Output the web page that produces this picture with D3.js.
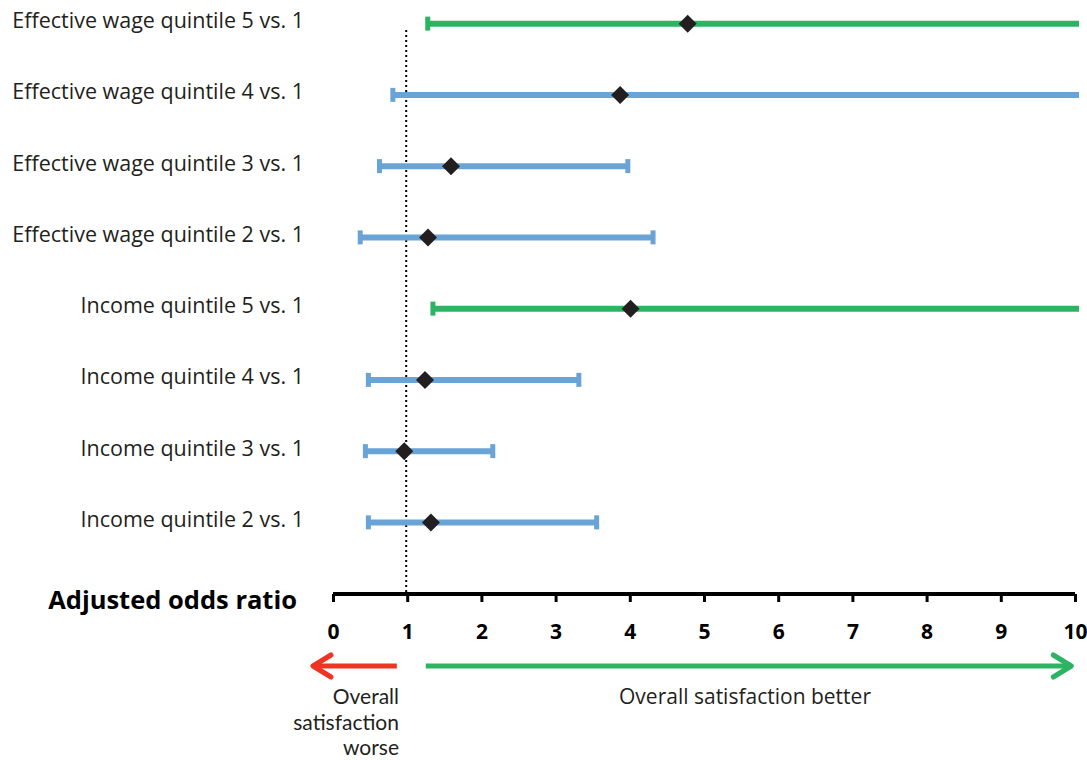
<!DOCTYPE html>
<html>
<head>
<meta charset="utf-8">
<script src="https://cdn.jsdelivr.net/npm/d3@7"></script>
<style>
  body { margin: 0; background: #fff; }
  svg { display: block; font-family: "Open Sans", "Noto Sans", sans-serif; }
</style>
</head>
<body>
<svg id="chart" width="1087" height="760"></svg>
<script>
// rows, top to bottom
var labels = [
    'Effective wage quintile 5 vs. 1',
    'Effective wage quintile 4 vs. 1',
    'Effective wage quintile 3 vs. 1',
    'Effective wage quintile 2 vs. 1',
    'Income quintile 5 vs. 1',
    'Income quintile 4 vs. 1',
    'Income quintile 3 vs. 1',
    'Income quintile 2 vs. 1'
];
var estimates = [4.78, 3.87, 1.59, 1.28, 4.01, 1.24, 0.96, 1.32];
var lowers = [1.27, 0.80, 0.62, 0.36, 1.34, 0.47, 0.43, 0.47];
// null = upper bound runs off the chart
var uppers = [null, null, 3.98, 4.32, null, 3.32, 2.16, 3.56];
var significant = [true, false, false, false, true, false, false, false];
var xTicks = [0, 1, 2, 3, 4, 5, 6, 7, 8, 9, 10];

var green = '#2db463', blue = '#6aa3d6', red = '#ee3524', dark = '#231f20';

var svg = d3.select('#chart');
var x = d3.scaleLinear().domain([0, 10]).range([333, 1075]);
var y = d3.scaleBand().domain(labels).range([-12, 558]);
var cy = function (d) { return y(d) + y.bandwidth() / 2; };
var axisY = 594;

// reference line at odds ratio 1
svg.append('line')
    .attr('x1', x(1) - 1).attr('x2', x(1) - 1)
    .attr('y1', 30).attr('y2', axisY)
    .attr('stroke', '#000').attr('stroke-width', 2)
    .attr('stroke-dasharray', '2,3');

var rows = labels.map(function (l, i) {
    return { label: l, est: estimates[i], lo: lowers[i], hi: uppers[i], sig: significant[i] };
});

var g = svg.append('g').selectAll('g').data(rows).enter().append('g');

g.append('line')
    .attr('x1', function (d) { return x(d.lo); })
    .attr('x2', function (d) { return d.hi == null ? x(10) + 4 : x(d.hi); })
    .attr('y1', function (d) { return cy(d.label); })
    .attr('y2', function (d) { return cy(d.label); })
    .attr('stroke', function (d) { return d.sig ? green : blue; })
    .attr('stroke-width', 6);

// caps
g.append('rect')
    .attr('x', function (d) { return x(d.lo) - 2; })
    .attr('y', function (d) { return cy(d.label) - 7; })
    .attr('width', 5).attr('height', 14)
    .attr('fill', function (d) { return d.sig ? green : blue; });
g.filter(function (d) { return d.hi != null; }).append('rect')
    .attr('x', function (d) { return x(d.hi) - 3; })
    .attr('y', function (d) { return cy(d.label) - 7; })
    .attr('width', 5).attr('height', 14)
    .attr('fill', blue);

// point estimates
g.append('path')
    .attr('d', 'M0,-9L9,0L0,9L-9,0Z')
    .attr('transform', function (d) { return 'translate(' + x(d.est) + ',' + cy(d.label) + ')'; })
    .attr('fill', dark);

g.append('text')
    .attr('x', 304)
    .attr('y', function (d) { return cy(d.label) - 3; })
    .attr('dy', '0.35em')
    .attr('text-anchor', 'end')
    .attr('font-size', 21.5)
    .attr('fill', dark)
    .text(function (d) { return d.label; });

// x axis
var axis = svg.append('g')
    .attr('transform', 'translate(0,' + axisY + ')')
    .call(d3.axisBottom(x).tickValues(xTicks).tickSize(8).tickPadding(22).tickSizeOuter(0));
axis.select('.domain').attr('stroke', '#000').attr('stroke-width', 4).attr('d', 'M' + x(0) + ',0H' + x(10));
axis.selectAll('.tick line').attr('stroke', '#000').attr('stroke-width', 3)
    .attr('y1', 0).attr('y2', 8);
axis.selectAll('.tick text')
    .attr('font-size', 21).attr('font-weight', 'bold')
    .attr('font-family', '"Open Sans", sans-serif').attr('fill', '#000');

svg.append('text')
    .attr('x', 297).attr('y', 600).attr('dy', '0.35em')
    .attr('text-anchor', 'end')
    .attr('font-size', 25.5).attr('font-weight', 'bold')
    .attr('fill', '#000')
    .text('Adjusted odds ratio');

// direction arrows
function arrow(x1, x2, yy, col) {
    var dir = x2 > x1 ? 1 : -1;
    svg.append('line')
        .attr('x1', x1).attr('x2', x2 - dir * 2).attr('y1', yy).attr('y2', yy)
        .attr('stroke', col).attr('stroke-width', 5);
    svg.append('path')
        .attr('d', 'M' + (x2 - dir * 18) + ',' + (yy - 11) + 'L' + x2 + ',' + yy + 'L' + (x2 - dir * 18) + ',' + (yy + 11))
        .attr('fill', 'none').attr('stroke', col).attr('stroke-width', 5)
        .attr('stroke-linecap', 'round').attr('stroke-linejoin', 'round');
}
arrow(x(0.86), x(-0.27), 666, red);
arrow(x(1.25), x(9.95), 666, green);

// tighter-leading font for the stacked three-line note
var worse = ['Overall', 'satisfaction', 'worse'];
svg.append('g').selectAll('text').data(worse).enter().append('text')
    .attr('x', 399)
    .attr('y', function (d, i) { return 697 + i * 25.3; })
    .attr('dy', '0.35em')
    .attr('text-anchor', 'end')
    .attr('font-family', 'Lato, "Open Sans", sans-serif')
    .attr('font-size', 21).attr('fill', dark)
    .text(function (d) { return d; });

svg.append('text')
    .attr('x', 745).attr('y', 697).attr('dy', '0.35em')
    .attr('text-anchor', 'middle')
    .attr('font-size', 21).attr('fill', dark)
    .text('Overall satisfaction better');
</script>
</body>
</html>
